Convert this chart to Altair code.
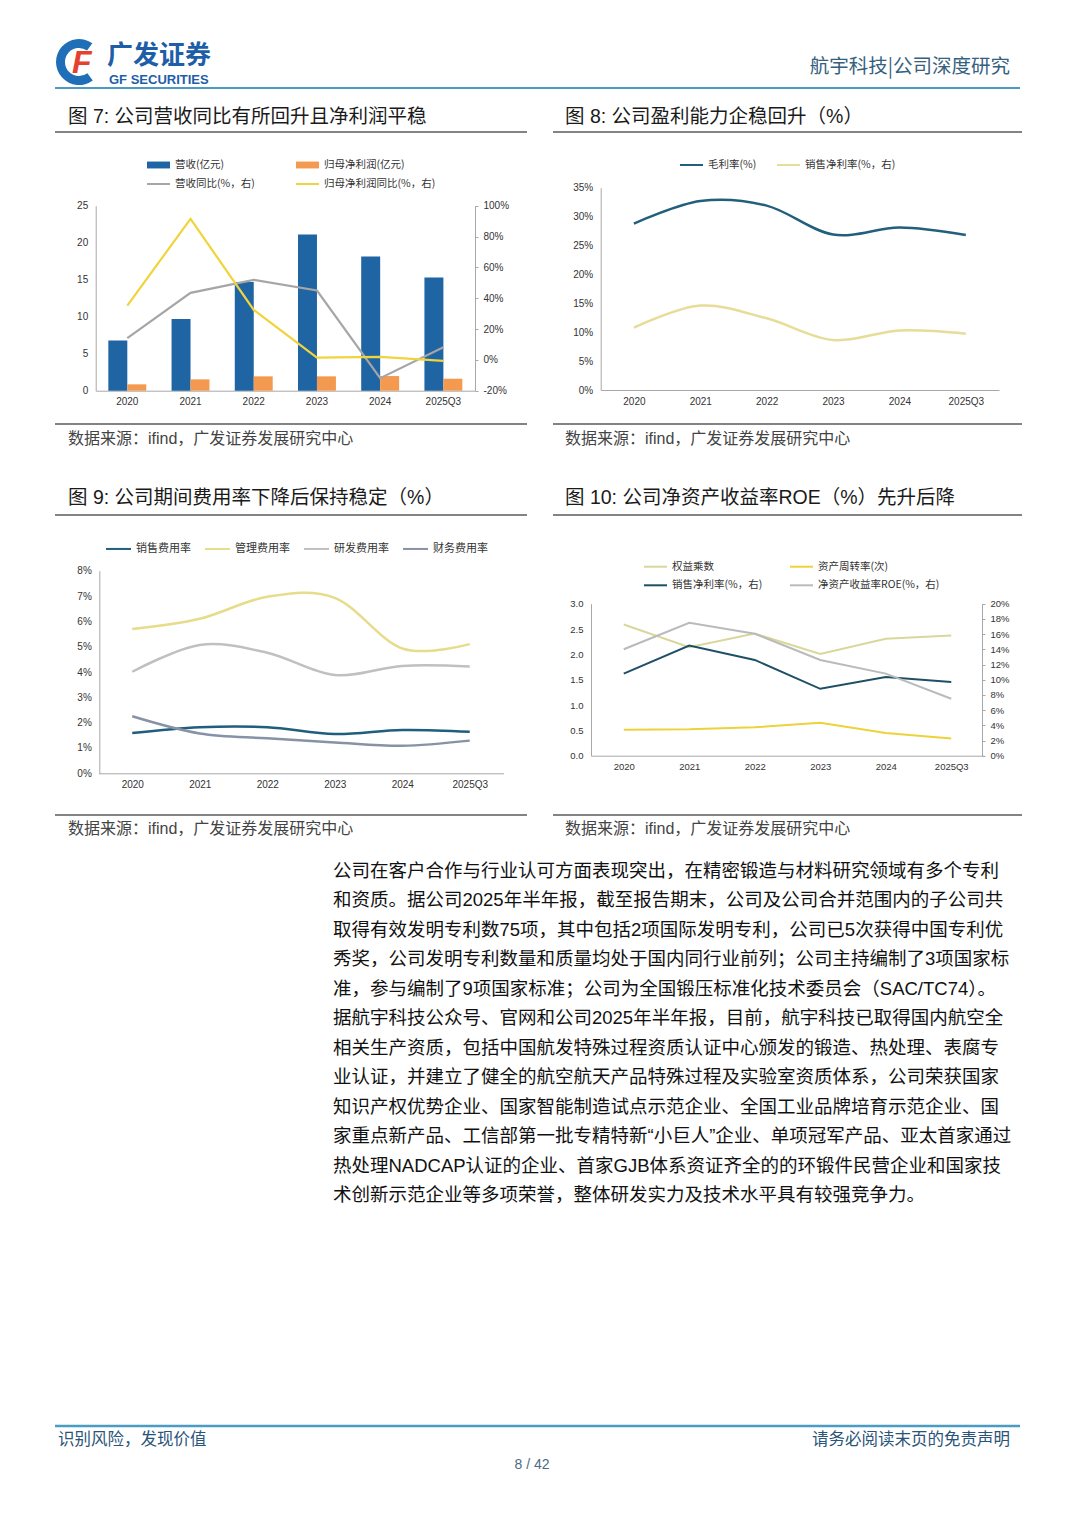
import altair as alt
import pandas as pd

# ---------------- page geometry (canvas = page minus 8px margin) ----------------
W, H = 1064, 1511
M = 8


def X(px):
    return px - M


def Y(py):
    return py - M


# ---------------- data ----------------
CATS = ["2020", "2021", "2022", "2023", "2024", "2025Q3"]

# Fig 7
S7_BAR = ["营收(亿元)", "归母净利润(亿元)"]
REVENUE = [6.8, 9.7, 14.7, 21.1, 18.15, 15.3]
NET_PROFIT = [0.86, 1.53, 1.94, 1.94, 1.98, 1.62]
S7_LINE = ["营收同比(%，右)", "归母净利润同比(%，右)"]
REVENUE_YOY = [14.1, 43.5, 51.9, 45.0, -11.9, 8.2]
PROFIT_YOY = [35.2, 91.5, 32.4, 1.5, 1.9, -0.6]

# Fig 8
S8 = ["毛利率(%)", "销售净利率(%，右)"]
GROSS_MARGIN = [28.8, 32.7, 31.9, 26.9, 28.1, 26.8]
NET_MARGIN = [10.8, 14.6, 12.4, 8.65, 10.3, 9.75]

# Fig 9
S9 = ["销售费用率", "管理费用率", "研发费用率", "财务费用率"]
SELLING = [1.59, 1.82, 1.82, 1.55, 1.71, 1.64]
ADMIN = [5.70, 6.10, 6.97, 6.93, 4.93, 5.10]
RND = [4.01, 5.07, 4.76, 3.88, 4.24, 4.22]
FINANCE = [2.25, 1.57, 1.38, 1.22, 1.09, 1.29]

# Fig 10
S10_L = ["权益乘数", "资产周转率(次)"]
EQUITY_MULT = [2.59, 2.14, 2.41, 2.01, 2.31, 2.37]
ASSET_TURN = [0.51, 0.52, 0.56, 0.65, 0.45, 0.34]
S10_R = ["销售净利率(%，右)", "净资产收益率ROE(%，右)"]
NET_MARGIN_10 = [10.8, 14.5, 12.6, 8.8, 10.35, 9.7]
ROE = [14.0, 17.5, 16.05, 12.6, 10.8, 7.5]

BODY = [
    "公司在客户合作与行业认可方面表现突出，在精密锻造与材料研究领域有多个专利",
    "和资质。据公司2025年半年报，截至报告期末，公司及公司合并范围内的子公司共",
    "取得有效发明专利数75项，其中包括2项国际发明专利，公司已5次获得中国专利优",
    "秀奖，公司发明专利数量和质量均处于国内同行业前列；公司主持编制了3项国家标",
    "准，参与编制了9项国家标准；公司为全国锻压标准化技术委员会（SAC/TC74）。",
    "据航宇科技公众号、官网和公司2025年半年报，目前，航宇科技已取得国内航空全",
    "相关生产资质，包括中国航发特殊过程资质认证中心颁发的锻造、热处理、表腐专",
    "业认证，并建立了健全的航空航天产品特殊过程及实验室资质体系，公司荣获国家",
    "知识产权优势企业、国家智能制造试点示范企业、全国工业品牌培育示范企业、国",
    "家重点新产品、工信部第一批专精特新“小巨人”企业、单项冠军产品、亚太首家通过",
    "热处理NADCAP认证的企业、首家GJB体系资证齐全的的环锻件民营企业和国家技",
    "术创新示范企业等多项荣誉，整体研发实力及技术水平具有较强竞争力。",
]

SANS = "Noto Sans CJK SC"
NUM = "Liberation Sans"
MIX = "Liberation Sans, Noto Sans CJK SC"
ONE = pd.DataFrame({"k": [0]})
AXC = "#a8a8a8"


def long_df(names, series):
    rows = []
    for n, vals in zip(names, series):
        for c, v in zip(CATS, vals):
            rows.append({"年份": c, "系列": n, "值": v})
    return pd.DataFrame(rows)


# ---------------- helpers ----------------
def txt(s, x, y, size, color="#222", align="left", weight="normal", font=SANS, style="normal"):
    return alt.Chart(ONE).mark_text(
        text=s, align=align, baseline="middle", fontSize=size, color=color,
        fontWeight=weight, font=font, fontStyle=style,
    ).encode(x=alt.value(X(x)), y=alt.value(Y(y)))


def hline(x1, x2, y, color="#5a5a5a", w=1.5):
    return alt.Chart(ONE).mark_rule(color=color, strokeWidth=w).encode(
        x=alt.value(X(x1)), x2=alt.value(X(x2)), y=alt.value(Y(y))
    )


def ax_bottom(ypage, size=10):
    return alt.Axis(orient="bottom", offset=Y(ypage) - H, title=None, labelAngle=0,
                    labelFont=NUM, labelFontSize=size, labelColor="#333",
                    domainColor=AXC, domainWidth=1, ticks=False, grid=False,
                    labelPadding=6)


def ax_left(xpage, values, fmt=None, expr=None, size=10):
    kw = dict(orient="left", offset=-X(xpage), values=values, title=None,
              labelFont=NUM, labelFontSize=size, labelColor="#333",
              domainColor=AXC, domainWidth=1, grid=False, ticks=False,
              labelPadding=8, labelOverlap=False)
    if fmt:
        kw["format"] = fmt
    if expr:
        kw["labelExpr"] = expr
    return alt.Axis(**kw)


def ax_right(xpage, values, expr=None, size=10):
    kw = dict(orient="right", offset=X(xpage) - W, values=values, title=None,
              labelFont=NUM, labelFontSize=size, labelColor="#333",
              domainColor=AXC, domainWidth=1, grid=False, ticks=True,
              tickSize=3, tickColor=AXC, labelPadding=5, labelOverlap=False)
    if expr:
        kw["labelExpr"] = expr
    return alt.Axis(**kw)


def leg(xpage, ypage, pad, sym, size=529, sw=2, fs=10.5):
    return alt.Legend(orient="none", legendX=X(xpage), legendY=Y(ypage) - 11.5,
                      direction="horizontal", title=None, symbolType=sym,
                      symbolSize=size, symbolStrokeWidth=sw, labelFont=SANS,
                      labelFontSize=fs, labelColor="#333", columnPadding=pad,
                      padding=0, labelOffset=4, labelLimit=300, symbolOpacity=1)


def xpoint(x0, x1):
    return alt.Scale(type="point", domain=CATS, range=[X(x0), X(x1)], padding=0.5)


def ylin(d0, d1, yb, yt):
    return alt.Scale(domain=[d0, d1], range=[Y(yb), Y(yt)], nice=False, zero=False)


PCT = "datum.value + '%'"
BAR_SYM = "M-1,-0.3H1V0.3H-1Z"

# ---------------- Fig 7 ----------------
bars7 = alt.Chart(long_df(S7_BAR, [REVENUE, NET_PROFIT])).mark_bar().encode(
    x=alt.X("年份:N", scale=alt.Scale(type="band", domain=CATS, range=[X(95.7), X(475)],
                                     paddingInner=0.4, paddingOuter=0.2),
            axis=ax_bottom(390.7)),
    xOffset=alt.XOffset("系列:N", scale=alt.Scale(domain=S7_BAR, paddingInner=0, paddingOuter=0)),
    y=alt.Y("值:Q", scale=ylin(0, 25, 390.7, 205.7), axis=ax_left(95.7, [0, 5, 10, 15, 20, 25])),
    color=alt.Color("系列:N", scale=alt.Scale(domain=S7_BAR, range=["#1f64a3", "#f39a50"]),
                    legend=leg(146, 164, 70, BAR_SYM)),
)
lines7 = alt.Chart(long_df(S7_LINE, [REVENUE_YOY, PROFIT_YOY])).mark_line(strokeWidth=2.2).encode(
    x=alt.X("年份:N", scale=xpoint(95.7, 475), axis=None),
    y=alt.Y("值:Q", scale=ylin(-20, 100, 390.7, 205.7),
            axis=ax_right(475, [-20, 0, 20, 40, 60, 80, 100], expr=PCT)),
    color=alt.Color("系列:N", scale=alt.Scale(domain=S7_LINE, range=["#a6a6a6", "#f0d43c"]),
                    legend=leg(146, 183, 37, "stroke")),
)

# ---------------- Fig 8 ----------------
lines8 = alt.Chart(long_df(S8, [GROSS_MARGIN, NET_MARGIN])).mark_line(
    strokeWidth=2.5, interpolate="cardinal").encode(
    x=alt.X("年份:N", scale=xpoint(600.7, 999), axis=ax_bottom(390)),
    y=alt.Y("值:Q", scale=ylin(0, 35, 390, 187.7),
            axis=ax_left(600.7, [0, 5, 10, 15, 20, 25, 30, 35], expr=PCT)),
    color=alt.Color("系列:N", scale=alt.Scale(domain=S8, range=["#215f7c", "#e6dd98"]),
                    legend=leg(679, 164, 16, "stroke")),
)

# ---------------- Fig 9 ----------------
lines9 = alt.Chart(long_df(S9, [SELLING, ADMIN, RND, FINANCE])).mark_line(
    strokeWidth=2.5, interpolate="cardinal").encode(
    x=alt.X("年份:N", scale=xpoint(98.5, 503.5), axis=ax_bottom(773.3)),
    y=alt.Y("值:Q", scale=ylin(0, 8, 773.3, 570.7),
            axis=ax_left(99.3, [0, 1, 2, 3, 4, 5, 6, 7, 8], expr=PCT)),
    color=alt.Color("系列:N", scale=alt.Scale(domain=S9, range=["#1f5e7c", "#e6dc8a", "#c0c0c0", "#8792a6"]),
                    legend=leg(105, 546.7, 10, "stroke", size=625, fs=11)),
)

# ---------------- Fig 10 ----------------
lines10l = alt.Chart(long_df(S10_L, [EQUITY_MULT, ASSET_TURN])).mark_line(strokeWidth=2).encode(
    x=alt.X("年份:N", scale=xpoint(591, 984), axis=ax_bottom(755.7, size=9.5)),
    y=alt.Y("值:Q", scale=ylin(0, 3, 755.7, 603.7),
            axis=ax_left(591, [0, 0.5, 1, 1.5, 2, 2.5, 3], fmt=".1f", size=9.5)),
    color=alt.Color("系列:N", scale=alt.Scale(domain=S10_L, range=["#d9d79a", "#ecd33a"]),
                    legend=leg(643, 565.7, 72, "stroke")),
)
lines10r = alt.Chart(long_df(S10_R, [NET_MARGIN_10, ROE])).mark_line(strokeWidth=2).encode(
    x=alt.X("年份:N", scale=xpoint(591, 984), axis=None),
    y=alt.Y("值:Q", scale=ylin(0, 20, 755.7, 603.7),
            axis=ax_right(982, [0, 2, 4, 6, 8, 10, 12, 14, 16, 18, 20], expr=PCT, size=9.5)),
    color=alt.Color("系列:N", scale=alt.Scale(domain=S10_R, range=["#1e4f66", "#bababa"]),
                    legend=leg(643, 584.3, 23, "stroke")),
)

# ---------------- body text ----------------
body = alt.Chart(pd.DataFrame({"i": list(range(len(BODY))), "t": BODY})).mark_text(
    align="left", baseline="middle", fontSize=18.5, font=MIX, color="#111").encode(
    x=alt.value(X(333)),
    y=alt.Y("i:Q", scale=alt.Scale(domain=[0, len(BODY) - 1], range=[Y(871), Y(1195)],
                                   nice=False, zero=False), axis=None),
    text="t:N",
)

# ---------------- logo arc ----------------
logo_arc = alt.Chart(ONE).mark_arc(color="#1f6fb8").encode(
    x=alt.value(X(79)), y=alt.value(Y(62)),
    radius=alt.value(23), radius2=alt.value(14),
    theta=alt.value(2.5), theta2=alt.value(6.9),
)

# ---------------- page decorations ----------------
deco = [
    # header / logo
    logo_arc,
    txt("F", 72, 63, 32, color="#e5412f", weight="bold", font=NUM, style="italic"),
    txt("广发证券", 107, 55.5, 26, color="#1e5ea8", weight="bold"),
    txt("GF SECURITIES", 109, 80, 13, color="#1e5ea8", weight="bold", font=NUM),
    txt("航宇科技|公司深度研究", 1010, 67, 19.5, color="#36607e", align="right"),
    hline(55, 1020, 88, color="#4b9cc2", w=2),
    # figure titles
    txt("图  7:  公司营收同比有所回升且净利润平稳", 68, 117, 19.5, color="#1a1a1a", font=MIX),
    txt("图  8:  公司盈利能力企稳回升（%）", 565, 117, 19.5, color="#1a1a1a", font=MIX),
    txt("图  9:  公司期间费用率下降后保持稳定（%）", 68, 498, 19.5, color="#1a1a1a", font=MIX),
    txt("图  10:  公司净资产收益率ROE（%）先升后降", 565, 498, 19.5, color="#1a1a1a", font=MIX),
    hline(55, 527, 132), hline(553, 1022, 132),
    hline(55, 527, 424), hline(553, 1022, 424),
    hline(55, 527, 515), hline(553, 1022, 515),
    hline(55, 527, 815), hline(553, 1022, 815),
    # sources
    txt("数据来源：ifind，广发证券发展研究中心", 68, 439, 16, color="#444", font=MIX),
    txt("数据来源：ifind，广发证券发展研究中心", 565, 439, 16, color="#444", font=MIX),
    txt("数据来源：ifind，广发证券发展研究中心", 68, 829, 16, color="#444", font=MIX),
    txt("数据来源：ifind，广发证券发展研究中心", 565, 829, 16, color="#444", font=MIX),
    # footer
    hline(55, 1020, 1426, color="#4b9cc2", w=2.5),
    txt("识别风险，发现价值", 58, 1440, 16.5, color="#2a5478"),
    txt("请务必阅读末页的免责声明", 1010, 1440, 16.5, color="#2a5478", align="right"),
    txt("8 / 42", 532, 1465, 14, color="#4d6b85", align="center", font=NUM),
]

layers = deco + [bars7, lines7, lines8, lines9, lines10l, lines10r, body]

chart = alt.layer(*layers).properties(
    width=W, height=H, padding=0, background="white",
    autosize=alt.AutoSizeParams(type="none"),
).resolve_scale(
    x="independent", y="independent", color="independent"
).resolve_legend(color="independent").configure_view(stroke=None)

chart.save("out.html", embed_options={"renderer": "svg", "actions": False})
